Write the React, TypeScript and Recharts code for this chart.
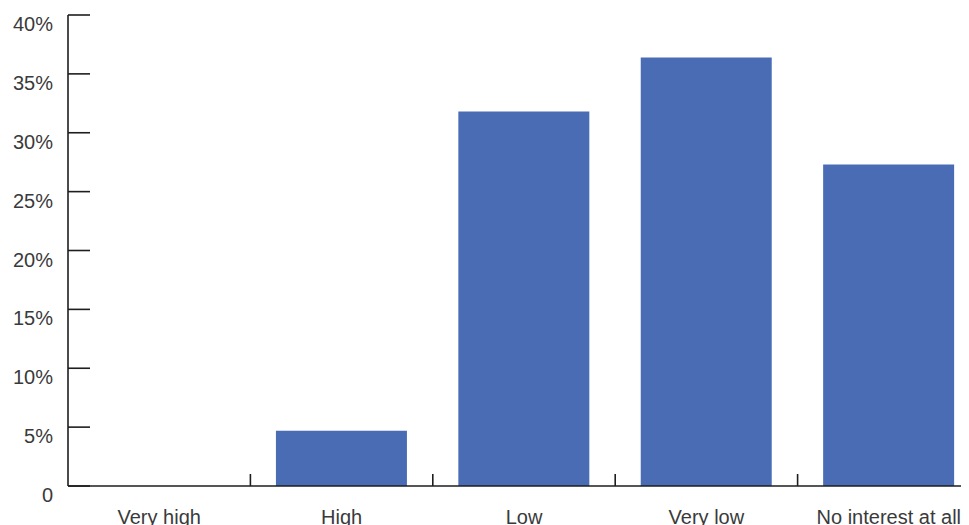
import { BarChart, Bar, XAxis, YAxis } from "recharts";

const categories = ["Very high", "High", "Low", "Very low", "No interest at all"];
const shares = [0, 4.7, 31.8, 36.4, 27.3];
const yTicks = [0, 5, 10, 15, 20, 25, 30, 35, 40];

const data = categories.map((name, i) => ({ name, share: shares[i] }));

const CHART_W = 990;
const CHART_H = 520;
const Y_W = 60;
const M_RIGHT = 18;
const BAND = (CHART_W - Y_W - M_RIGHT) / categories.length;
const INK = "#1e1e1e";
const TEXT = "#3a3a3a";
const FONT = "'Liberation Sans', Arial, sans-serif";

const fmtPct = (v: number) => (v === 0 ? "0" : v + "%");

function YTick(props: any) {
  const { x, y, payload } = props;
  return (
    <g>
      <line x1={x} x2={x + 22} y1={y} y2={y} stroke={INK} strokeWidth={1.6} />
      <text x={x - 15} y={y + 9} textAnchor="end" dominantBaseline="central" fontSize={20} fill={TEXT} fontFamily={FONT}>
        {fmtPct(payload.value)}
      </text>
    </g>
  );
}

function XTick(props: any) {
  const { x, y, payload, index } = props;
  return (
    <g>
      {index < categories.length - 1 && (
        <line x1={x + BAND / 2} x2={x + BAND / 2} y1={y} y2={y - 12} stroke={INK} strokeWidth={1.6} />
      )}
      <text x={x} y={y + 38} textAnchor="middle" fontSize={20} fill={TEXT} fontFamily={FONT}>
        {payload.value}
      </text>
    </g>
  );
}

export default function App() {
  return (
    <div style={{ width: 961, height: 517, overflow: "hidden", background: "#fff" }}>
      <BarChart
        width={CHART_W}
        height={CHART_H}
        data={data}
        margin={{ top: 7, right: M_RIGHT, left: 0, bottom: 0 }}
        barCategoryGap="14%"
      >
        <XAxis
          dataKey="name"
          interval={0}
          height={42}
          tickSize={0}
          tickMargin={0}
          tickLine={false}
          axisLine={{ stroke: INK, strokeWidth: 1.6 }}
          tick={<XTick />}
        />
        <YAxis
          width={Y_W}
          domain={[0, 40]}
          ticks={yTicks}
          interval={0}
          tickSize={0}
          tickMargin={0}
          tickLine={false}
          axisLine={{ stroke: INK, strokeWidth: 1.6 }}
          tick={<YTick />}
        />
        <Bar dataKey="share" fill="#4a6cb4" isAnimationActive={false} />
      </BarChart>
    </div>
  );
}
